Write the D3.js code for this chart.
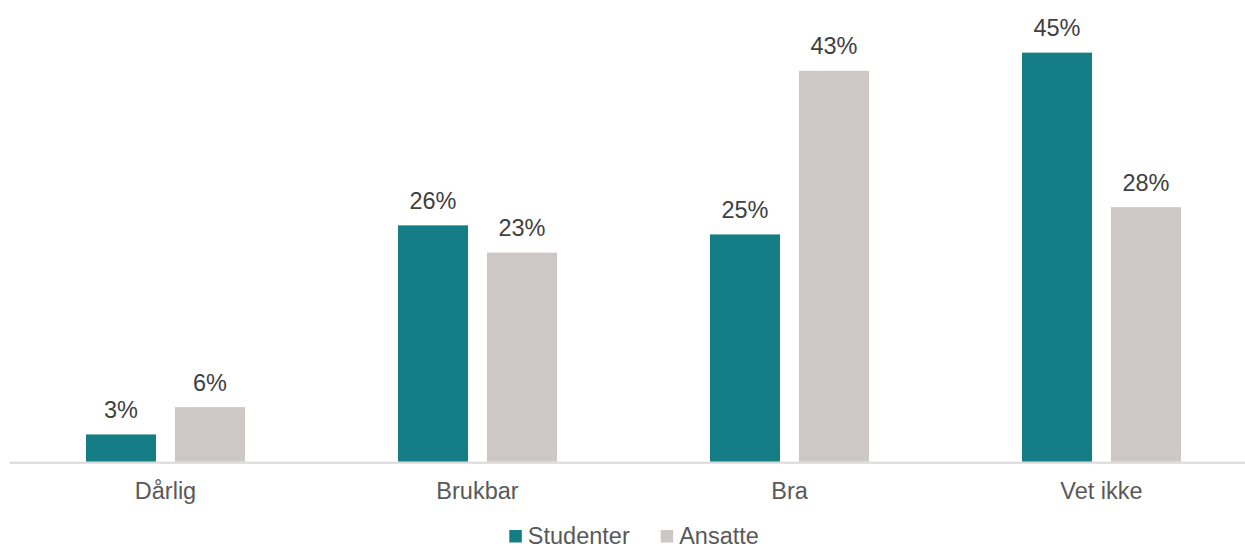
<!DOCTYPE html>
<html>
<head>
<meta charset="utf-8">
<script src="https://cdn.jsdelivr.net/npm/d3@7"></script>
<style>
  html, body { margin: 0; padding: 0; background: #ffffff; }
  svg { display: block; font-family: "Liberation Sans", Arial, sans-serif; }
</style>
</head>
<body>
<svg id="chart" width="1245" height="550"></svg>
<script>
// Survey answers per category, in percent
const categories = ["Dårlig", "Brukbar", "Bra", "Vet ikke"];
const seriesNames = ["Studenter", "Ansatte"];
const studenter = [3, 26, 25, 45];
const ansatte = [6, 23, 43, 28];
const seriesColors = ["#147d86", "#cdc8c5"];

const width = 1245, height = 550;
const baseY = 461.7;
const plotLeft = 9.5, plotRight = 1257.5;

const svg = d3.select("#chart");

const x = d3.scaleBand()
  .domain(categories)
  .range([plotLeft, plotRight])
  .paddingInner(0)
  .paddingOuter(0);

const barW = 70, barGap = 19;
const groupW = barW * 2 + barGap;

const y = d3.scaleLinear()
  .domain([0, 45])
  .range([baseY, baseY - 45 * 9.09]);

const rows = categories.map((c, i) => ({
  category: c,
  values: [
    { series: seriesNames[0], value: studenter[i], color: seriesColors[0] },
    { series: seriesNames[1], value: ansatte[i], color: seriesColors[1] }
  ]
}));

const groups = svg.append("g").selectAll("g")
  .data(rows)
  .join("g")
  .attr("transform", d => `translate(${x(d.category) + (x.bandwidth() - groupW) / 2},0)`);

groups.selectAll("rect")
  .data(d => d.values)
  .join("rect")
  .attr("x", (d, i) => i * (barW + barGap))
  .attr("y", d => y(d.value))
  .attr("width", barW)
  .attr("height", d => baseY - y(d.value))
  .attr("fill", d => d.color);

groups.selectAll("text.val")
  .data(d => d.values)
  .join("text")
  .attr("class", "val")
  .attr("x", (d, i) => i * (barW + barGap) + barW / 2)
  .attr("y", d => y(d.value) - 16.5)
  .attr("text-anchor", "middle")
  .attr("font-size", "23.5px")
  .attr("fill", "#404040")
  .text(d => d.value + "%");

// Category axis
const xAxis = d3.axisBottom(x).tickSize(0).tickPadding(0);
const axisG = svg.append("g")
  .attr("transform", `translate(0,${baseY})`)
  .call(xAxis);
axisG.select(".domain")
  .attr("stroke", "#d9d9d9")
  .attr("stroke-width", 2)
  .attr("d", `M${plotLeft},1H${plotRight}`);
axisG.selectAll(".tick text")
  .attr("y", 37)
  .attr("dy", 0)
  .attr("font-size", "23.5px")
  .attr("font-family", "'Liberation Sans', Arial, sans-serif")
  .attr("fill", "#595959");

// Legend
const legendItems = [
  { name: seriesNames[0], color: seriesColors[0], x: 509.3 },
  { name: seriesNames[1], color: seriesColors[1], x: 660.7 }
];
const legend = svg.append("g");
const li = legend.selectAll("g")
  .data(legendItems)
  .join("g")
  .attr("transform", d => `translate(${d.x},530)`);
li.append("rect")
  .attr("width", 12.5)
  .attr("height", 12.5)
  .attr("fill", d => d.color);
li.append("text")
  .attr("x", 18.5)
  .attr("y", 14)
  .attr("font-size", "23.5px")
  .attr("fill", "#595959")
  .text(d => d.name);
</script>
</body>
</html>
